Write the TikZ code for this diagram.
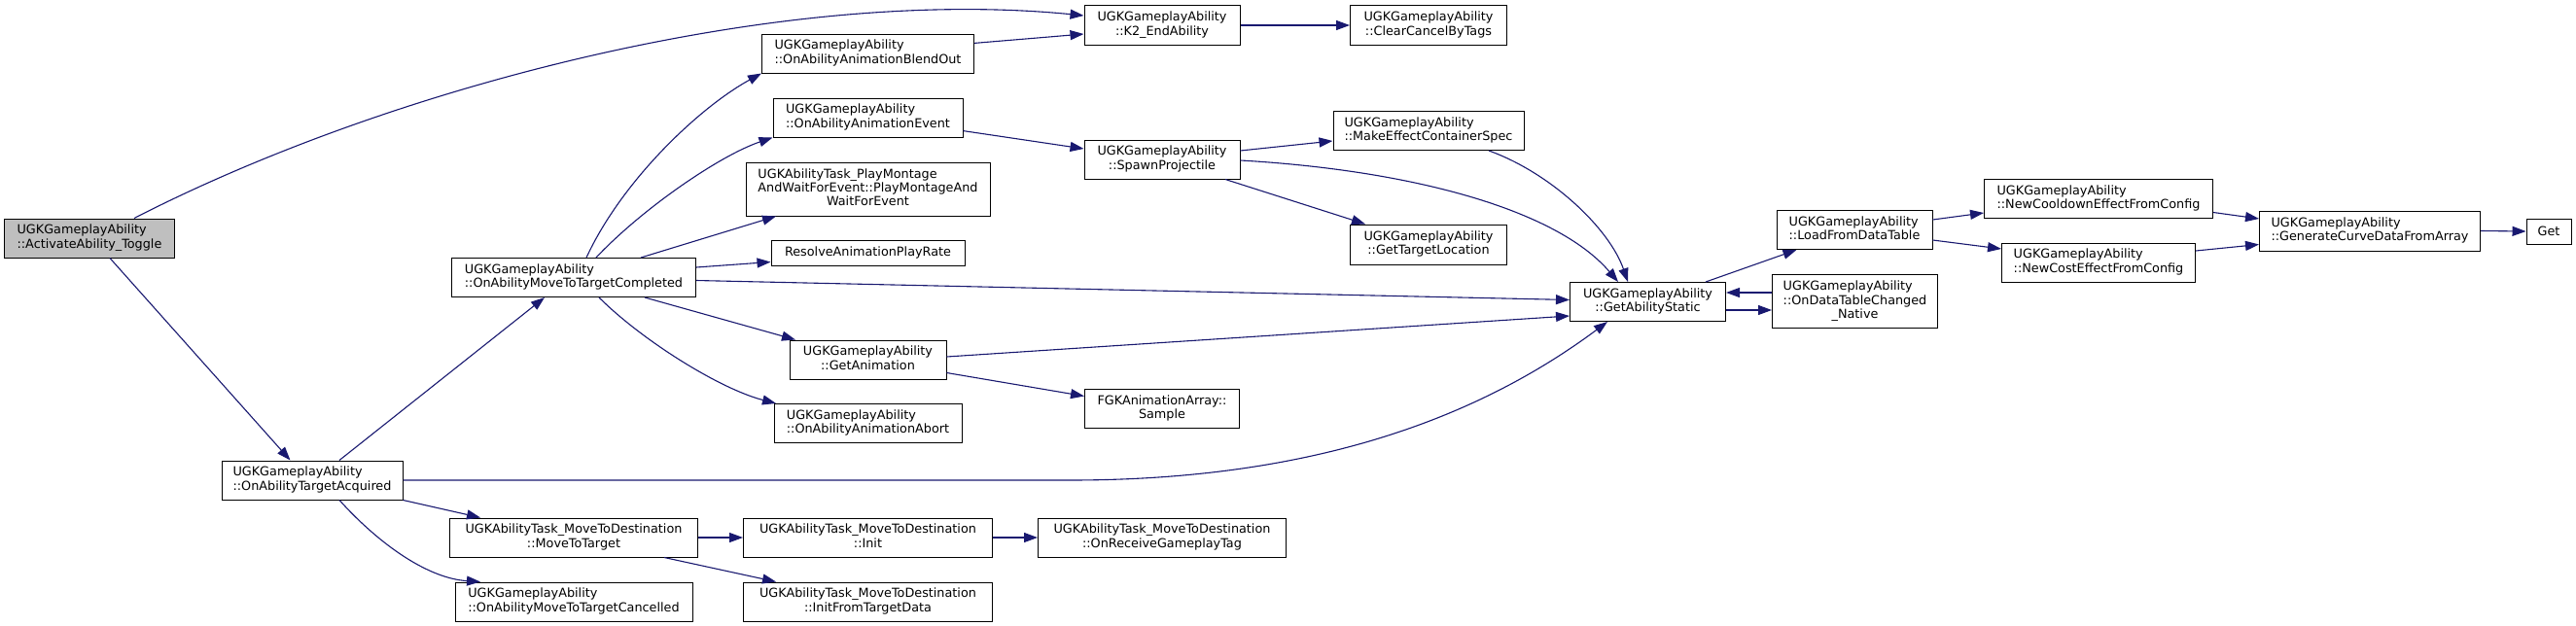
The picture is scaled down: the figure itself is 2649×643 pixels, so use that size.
\documentclass[tikz,border=0pt]{standalone}
\usepackage{fontspec}
\setmainfont{DejaVu Sans}
\usetikzlibrary{arrows.meta}
\definecolor{edgecol}{RGB}{25,25,112}
\definecolor{rootfill}{RGB}{191,191,191}
\newcommand\dxfont{\fontsize{12.8}{14.3}\selectfont\setbox\strutbox\hbox{\vrule height 10.2pt depth 4.1pt width 0pt}}
\newcommand\lblii[2]{\begin{tabular}{@{}l@{}}#1\\\multicolumn{1}{@{}c@{}}{#2}\end{tabular}}
\newcommand\lbliii[3]{\begin{tabular}{@{}l@{}}#1\\#2\\\multicolumn{1}{@{}c@{}}{#3}\end{tabular}}
\tikzset{
  fbox/.style={draw=black, line width=1pt, fill=white, inner sep=2pt, font=\dxfont},
  edge/.style={draw=edgecol, line width=1.1pt, -{Triangle[length=14pt,width=10pt]}, edgecol},
}
\begin{document}
\begin{tikzpicture}[x=1pt,y=-1pt]
\fill[white] (0,0) rectangle (2649,643);
\useasboundingbox (0,0) rectangle (2649,643);

% column 0
\node[fbox, fill=rootfill, minimum width=175pt, minimum height=40pt] (A) at (92,245) {\lblii{UGKGameplayAbility}{::ActivateAbility\_Toggle}};
% column 1
\node[fbox, minimum width=186pt, minimum height=40pt] (B) at (321,494) {\lblii{UGKGameplayAbility}{::OnAbilityTargetAcquired}};
% column 2
\node[fbox, minimum width=251pt, minimum height=40pt] (C) at (590,285.5) {\lblii{UGKGameplayAbility}{::OnAbilityMoveToTargetCompleted}};
\node[fbox, minimum width=255pt, minimum height=40pt] (D) at (590,553) {\lblii{UGKAbilityTask\_MoveToDestination}{::MoveToTarget}};
\node[fbox, minimum width=244pt, minimum height=40pt] (E) at (590,619) {\lblii{UGKGameplayAbility}{::OnAbilityMoveToTargetCancelled}};
% column 3
\node[fbox, minimum width=218pt, minimum height=40pt] (BO) at (892.5,55) {\lblii{UGKGameplayAbility}{::OnAbilityAnimationBlendOut}};
\node[fbox, minimum width=195pt, minimum height=40pt] (AE) at (892.5,121) {\lblii{UGKGameplayAbility}{::OnAbilityAnimationEvent}};
\node[fbox, minimum width=251pt, minimum height=55pt] (PM) at (892.5,194.5) {\lbliii{UGKAbilityTask\_PlayMontage}{AndWaitForEvent::PlayMontageAnd}{WaitForEvent}};
\node[fbox, minimum width=199pt, minimum height=26pt] (RP) at (892.5,260) {ResolveAnimationPlayRate};
\node[fbox, minimum width=161pt, minimum height=40pt] (GA) at (892.5,370) {\lblii{UGKGameplayAbility}{::GetAnimation}};
\node[fbox, minimum width=193pt, minimum height=40pt] (AA) at (892.5,435.5) {\lblii{UGKGameplayAbility}{::OnAbilityAnimationAbort}};
\node[fbox, minimum width=256pt, minimum height=40pt] (IN) at (892.5,553) {\lblii{UGKAbilityTask\_MoveToDestination}{::Init}};
\node[fbox, minimum width=256pt, minimum height=40pt] (IF) at (892.5,619) {\lblii{UGKAbilityTask\_MoveToDestination}{::InitFromTargetData}};
% column 4
\node[fbox, minimum width=160pt, minimum height=41pt] (K2) at (1195,26) {\lblii{UGKGameplayAbility}{::K2\_EndAbility}};
\node[fbox, minimum width=160pt, minimum height=40pt] (SP) at (1195,164) {\lblii{UGKGameplayAbility}{::SpawnProjectile}};
\node[fbox, minimum width=159pt, minimum height=40pt] (SA) at (1195,420.5) {\lblii{FGKAnimationArray::}{Sample}};
\node[fbox, minimum width=255pt, minimum height=40pt] (OR) at (1195,553) {\lblii{UGKAbilityTask\_MoveToDestination}{::OnReceiveGameplayTag}};
% column 5
\node[fbox, minimum width=161pt, minimum height=41pt] (CC) at (1469,26) {\lblii{UGKGameplayAbility}{::ClearCancelByTags}};
\node[fbox, minimum width=196pt, minimum height=40pt] (ME) at (1469,134.5) {\lblii{UGKGameplayAbility}{::MakeEffectContainerSpec}};
\node[fbox, minimum width=161pt, minimum height=41pt] (GT) at (1469,251.5) {\lblii{UGKGameplayAbility}{::GetTargetLocation}};
% column 6
\node[fbox, minimum width=160pt, minimum height=40pt] (GS) at (1694.5,310.5) {\lblii{UGKGameplayAbility}{::GetAbilityStatic}};
% column 7
\node[fbox, minimum width=160pt, minimum height=40pt] (LD) at (1907,236.5) {\lblii{UGKGameplayAbility}{::LoadFromDataTable}};
\node[fbox, minimum width=170pt, minimum height=55pt] (OD) at (1907.5,310) {\lbliii{UGKGameplayAbility}{::OnDataTableChanged}{\_Native}};
% column 8
\node[fbox, minimum width=235pt, minimum height=40pt] (NC) at (2158,204.5) {\lblii{UGKGameplayAbility}{::NewCooldownEffectFromConfig}};
\node[fbox, minimum width=199pt, minimum height=40pt] (NT) at (2158,270) {\lblii{UGKGameplayAbility}{::NewCostEffectFromConfig}};
% column 9
\node[fbox, minimum width=227pt, minimum height=41pt] (GN) at (2437,237.5) {\lblii{UGKGameplayAbility}{::GenerateCurveDataFromArray}};
% column 10
\node[fbox, minimum width=46pt, minimum height=26pt] (GE) at (2621,238) {Get};

% edges
\draw[edge] ([xshift=46pt]A.north) .. controls (400,90) and (800,-15) .. ([yshift=10pt]K2.west);
\draw[edge] ([xshift=21pt]A.south) -- ([xshift=-22.5pt]B.north);
\draw[edge] ([xshift=28pt]B.north) -- ([xshift=-30pt]C.south);
\draw[edge] (B.east) -- (1100,494) .. controls (1350,494) and (1520,430) .. ([xshift=-41.5pt]GS.south);
\draw[edge] (B.south east) -- ([xshift=-96pt]D.north);
\draw[edge] ([xshift=28pt]B.south) .. controls (390,560) and (440,595) .. ([xshift=-96pt]E.north);

\draw[edge] ([xshift=13pt]C.north) .. controls (640,185) and (720,110) .. (BO.south west);
\draw[edge] ([xshift=23pt]C.north) .. controls (660,215) and (740,160) .. (AE.south west);
\draw[edge] ([xshift=69pt]C.north) -- ([xshift=-94.5pt]PM.south);
\draw[edge] ([yshift=10.5pt]C.east) -- ([yshift=-9.5pt]RP.west);
\draw[edge] ([yshift=-3pt]C.east) -- ([yshift=2pt]GS.west);
\draw[edge] ([xshift=73pt]C.south) -- ([xshift=-74.5pt]GA.north);
\draw[edge] ([xshift=26pt]C.south) .. controls (660,350) and (740,400) .. ([xshift=-94.5pt]AA.north);

\draw[edge] ([yshift=10.6pt]BO.east) -- ([yshift=-9pt]K2.west);
\draw[edge] (K2.east) -- (CC.west);
\draw[edge] ([yshift=-13.6pt]AE.east) -- ([yshift=11pt]SP.west);
\draw[edge] ([yshift=9pt]SP.east) -- ([yshift=-10.5pt]ME.west);
\draw[edge] ([yshift=-1pt]SP.east) .. controls (1450,175) and (1600,215) .. ([xshift=-30.5pt]GS.north);
\draw[edge] ([xshift=62pt]ME.south) .. controls (1595,178) and (1655,235) .. ([xshift=-20.5pt]GS.north);
\draw[edge] ([xshift=65pt]SP.south) -- ([xshift=-65pt]GT.north);
\draw[edge] ([yshift=3pt]GA.east) -- ([yshift=-14.5pt]GS.west);
\draw[edge] ([yshift=-13.5pt]GA.east) -- ([yshift=13pt]SA.west);

\draw[edge] (D.east) -- (IN.west);
\draw[edge] ([xshift=93pt]D.south) -- ([xshift=-94.5pt]IF.north);
\draw[edge] (IN.east) -- (OR.west);

\draw[edge] ([xshift=59.5pt]GS.north) -- ([xshift=-59.5pt]LD.south);
\draw[edge] ([yshift=-8.5pt]GS.east) -- ([yshift=-9pt]OD.west);
\draw[edge] ([yshift=9pt]OD.west) -- ([yshift=9.5pt]GS.east);
\draw[edge] ([yshift=10.5pt]LD.east) -- ([yshift=-14.5pt]NC.west);
\draw[edge] ([yshift=-10.5pt]LD.east) -- ([yshift=14pt]NT.west);
\draw[edge] ([yshift=-14pt]NC.east) -- ([yshift=12.5pt]GN.west);
\draw[edge] ([yshift=12pt]NT.east) -- ([yshift=-14pt]GN.west);
\draw[edge] (GN.east) -- (GE.west);
\end{tikzpicture}
\end{document}
